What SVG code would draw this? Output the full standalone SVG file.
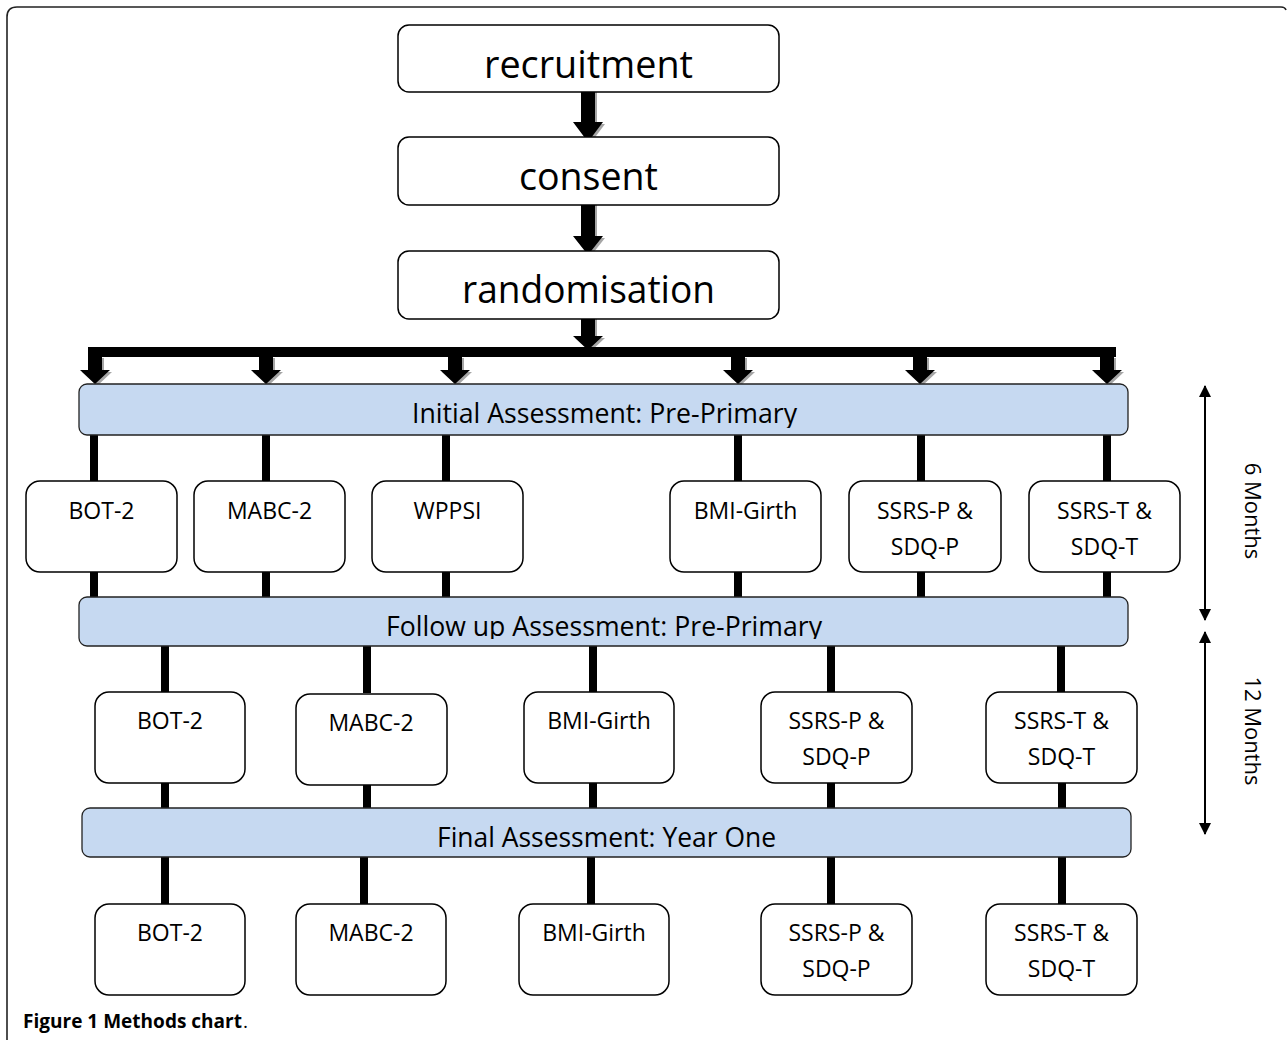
<svg xmlns="http://www.w3.org/2000/svg" width="1287" height="1040" viewBox="0 0 1287 1040">
<style>
.box{fill:#fff;stroke:#000;stroke-width:1.5}
.bar{fill:#c6d9f1;stroke:#222;stroke-width:1.3}
.big{font-family:"Open Sans","Liberation Sans",sans-serif;font-size:38px;fill:#000;text-anchor:middle}
.bt{font-family:"Open Sans","Liberation Sans",sans-serif;font-size:27px;fill:#000;text-anchor:middle}
.t{font-family:"Open Sans","Liberation Sans",sans-serif;font-size:23px;fill:#000;text-anchor:middle}
.rot{font-family:"Open Sans","Liberation Sans",sans-serif;font-size:22px;fill:#000;text-anchor:middle}
.cap{font-family:"Open Sans","Liberation Sans",sans-serif;font-size:19px;fill:#000}
.ln{stroke:#000;stroke-width:8;fill:none}
.arr{fill:#000}
.sh{fill:#a6a6a6}
.dim{stroke:#000;stroke-width:2;fill:none}
</style>
<defs>
<marker id="ah" viewBox="0 0 12 12" refX="11" refY="6" markerWidth="12" markerHeight="12" markerUnits="userSpaceOnUse" orient="auto-start-reverse">
<path d="M0,0 L12,6 L0,12 Z" fill="#000"/>
</marker>
<clipPath id="c1"><rect x="79" y="384" width="1049" height="44"/></clipPath>
<clipPath id="c2"><rect x="79" y="596" width="1049" height="43"/></clipPath>
</defs>

<path d="M7,1040 V17 Q7,7 17,7 H1281 Q1285,7 1286,10" fill="none" stroke="#222" stroke-width="1.6"/>

<g id="connectors">
<g class="sh" transform="translate(2,2)">
<path d="M581,89 H595 V122 H603 L588,142 L573,122 H581 Z"/>
<path d="M581,203 H595 V236 H603 L588,255 L573,236 H581 Z"/>
<path d="M581,317 H595 V336 H603 L588,350 L573,336 H581 Z"/>
<path d="M88,356 H102 V370 H110 L95,384 L80,370 H88 Z"/>
<path d="M259,356 H273 V370 H281 L266,384 L251,370 H259 Z"/>
<path d="M448,356 H462 V370 H470 L455,384 L440,370 H448 Z"/>
<path d="M731,356 H745 V370 H753 L738,384 L723,370 H731 Z"/>
<path d="M913,356 H927 V370 H935 L920,384 L905,370 H913 Z"/>
<path d="M1100,356 H1114 V370 H1122 L1107,384 L1092,370 H1100 Z"/>
</g>
<g class="arr">
<path d="M581,89 H595 V122 H603 L588,142 L573,122 H581 Z"/>
<path d="M581,203 H595 V236 H603 L588,255 L573,236 H581 Z"/>
<path d="M581,317 H595 V336 H603 L588,350 L573,336 H581 Z"/>
<rect x="88" y="347" width="1028" height="10"/>
<path d="M88,356 H102 V370 H110 L95,384 L80,370 H88 Z"/>
<path d="M259,356 H273 V370 H281 L266,384 L251,370 H259 Z"/>
<path d="M448,356 H462 V370 H470 L455,384 L440,370 H448 Z"/>
<path d="M731,356 H745 V370 H753 L738,384 L723,370 H731 Z"/>
<path d="M913,356 H927 V370 H935 L920,384 L905,370 H913 Z"/>
<path d="M1100,356 H1114 V370 H1122 L1107,384 L1092,370 H1100 Z"/>
</g>
<g class="ln">
<path d="M94,435 V481 M266,435 V481 M446,435 V481 M738,435 V481 M921,435 V481 M1107,435 V481"/>
<path d="M94,572 V597 M266,572 V597 M446,572 V597 M738,572 V597 M921,572 V597 M1107,572 V597"/>
<path d="M165,646 V692 M367,646 V693 M593,646 V692 M831,646 V692 M1061,646 V692"/>
<path d="M165,783 V808 M367,785 V808 M593,783 V808 M831,783 V808 M1062,783 V808"/>
<path d="M165,857 V904 M364,857 V904 M591,857 V904 M831,857 V904 M1062,857 V904"/>
</g>
<line class="dim" x1="1205" y1="386" x2="1205" y2="620" marker-start="url(#ah)" marker-end="url(#ah)"/>
<line class="dim" x1="1205" y1="632" x2="1205" y2="834" marker-start="url(#ah)" marker-end="url(#ah)"/>
</g>

<g id="recruitment"><rect class="box" x="398" y="25" width="381" height="67" rx="11"/><text class="big" x="588.5" y="78" textLength="209" lengthAdjust="spacingAndGlyphs">recruitment</text></g>
<g id="consent"><rect class="box" x="398" y="137" width="381" height="68" rx="11"/><text class="big" x="588.5" y="190" textLength="139" lengthAdjust="spacingAndGlyphs">consent</text></g>
<g id="randomisation"><rect class="box" x="398" y="251" width="381" height="68" rx="11"/><text class="big" x="588.5" y="303" textLength="253" lengthAdjust="spacingAndGlyphs">randomisation</text></g>

<g id="initial"><rect class="bar" x="79" y="384" width="1049" height="51" rx="8"/><text class="bt" x="604.5" y="423" textLength="385" lengthAdjust="spacingAndGlyphs" clip-path="url(#c1)">Initial Assessment: Pre-Primary</text></g>
<g id="followup"><rect class="bar" x="79" y="597" width="1049" height="49" rx="8"/><text class="bt" x="604" y="636" textLength="436" lengthAdjust="spacingAndGlyphs" clip-path="url(#c2)">Follow up Assessment: Pre-Primary</text></g>
<g id="final"><rect class="bar" x="82" y="808" width="1049" height="49" rx="8"/><text class="bt" x="606.5" y="847" textLength="339" lengthAdjust="spacingAndGlyphs">Final Assessment: Year One</text></g>

<g id="r1-bot2"><rect class="box" x="26" y="481" width="151" height="91" rx="14"/><text class="t" x="101.5" y="519">BOT-2</text></g>
<g id="r1-mabc2"><rect class="box" x="194" y="481" width="151" height="91" rx="14"/><text class="t" x="269.5" y="519">MABC-2</text></g>
<g id="r1-wppsi"><rect class="box" x="372" y="481" width="151" height="91" rx="14"/><text class="t" x="447.5" y="519">WPPSI</text></g>
<g id="r1-bmi"><rect class="box" x="670" y="481" width="151" height="91" rx="14"/><text class="t" x="745.5" y="519">BMI-Girth</text></g>
<g id="r1-ssrsp"><rect class="box" x="849" y="481" width="152" height="91" rx="14"/><text class="t" x="925" y="519">SSRS-P &amp;</text><text class="t" x="925" y="555">SDQ-P</text></g>
<g id="r1-ssrst"><rect class="box" x="1029" y="481" width="151" height="91" rx="14"/><text class="t" x="1104.5" y="519">SSRS-T &amp;</text><text class="t" x="1104.5" y="555">SDQ-T</text></g>

<g id="r2-bot2"><rect class="box" x="95" y="692" width="150" height="91" rx="14"/><text class="t" x="170" y="729">BOT-2</text></g>
<g id="r2-mabc2"><rect class="box" x="296" y="694" width="151" height="91" rx="14"/><text class="t" x="371" y="731">MABC-2</text></g>
<g id="r2-bmi"><rect class="box" x="524" y="692" width="150" height="91" rx="14"/><text class="t" x="599" y="729">BMI-Girth</text></g>
<g id="r2-ssrsp"><rect class="box" x="761" y="692" width="151" height="91" rx="14"/><text class="t" x="836.5" y="729">SSRS-P &amp;</text><text class="t" x="836.5" y="765">SDQ-P</text></g>
<g id="r2-ssrst"><rect class="box" x="986" y="692" width="151" height="91" rx="14"/><text class="t" x="1061.5" y="729">SSRS-T &amp;</text><text class="t" x="1061.5" y="765">SDQ-T</text></g>

<g id="r3-bot2"><rect class="box" x="95" y="904" width="150" height="91" rx="14"/><text class="t" x="170" y="941">BOT-2</text></g>
<g id="r3-mabc2"><rect class="box" x="296" y="904" width="150" height="91" rx="14"/><text class="t" x="371" y="941">MABC-2</text></g>
<g id="r3-bmi"><rect class="box" x="519" y="904" width="150" height="91" rx="14"/><text class="t" x="594" y="941">BMI-Girth</text></g>
<g id="r3-ssrsp"><rect class="box" x="761" y="904" width="151" height="91" rx="14"/><text class="t" x="836.5" y="941">SSRS-P &amp;</text><text class="t" x="836.5" y="977">SDQ-P</text></g>
<g id="r3-ssrst"><rect class="box" x="986" y="904" width="151" height="91" rx="14"/><text class="t" x="1061.5" y="941">SSRS-T &amp;</text><text class="t" x="1061.5" y="977">SDQ-T</text></g>

<g id="months">
<text class="rot" transform="translate(1245,511) rotate(90)">6 Months</text>
<text class="rot" transform="translate(1245,731) rotate(90)">12 Months</text>
</g>

<text class="cap" x="23" y="1028" font-weight="bold" textLength="219" lengthAdjust="spacingAndGlyphs">Figure 1 Methods chart</text>
<text class="cap" x="243" y="1028">.</text>
</svg>
